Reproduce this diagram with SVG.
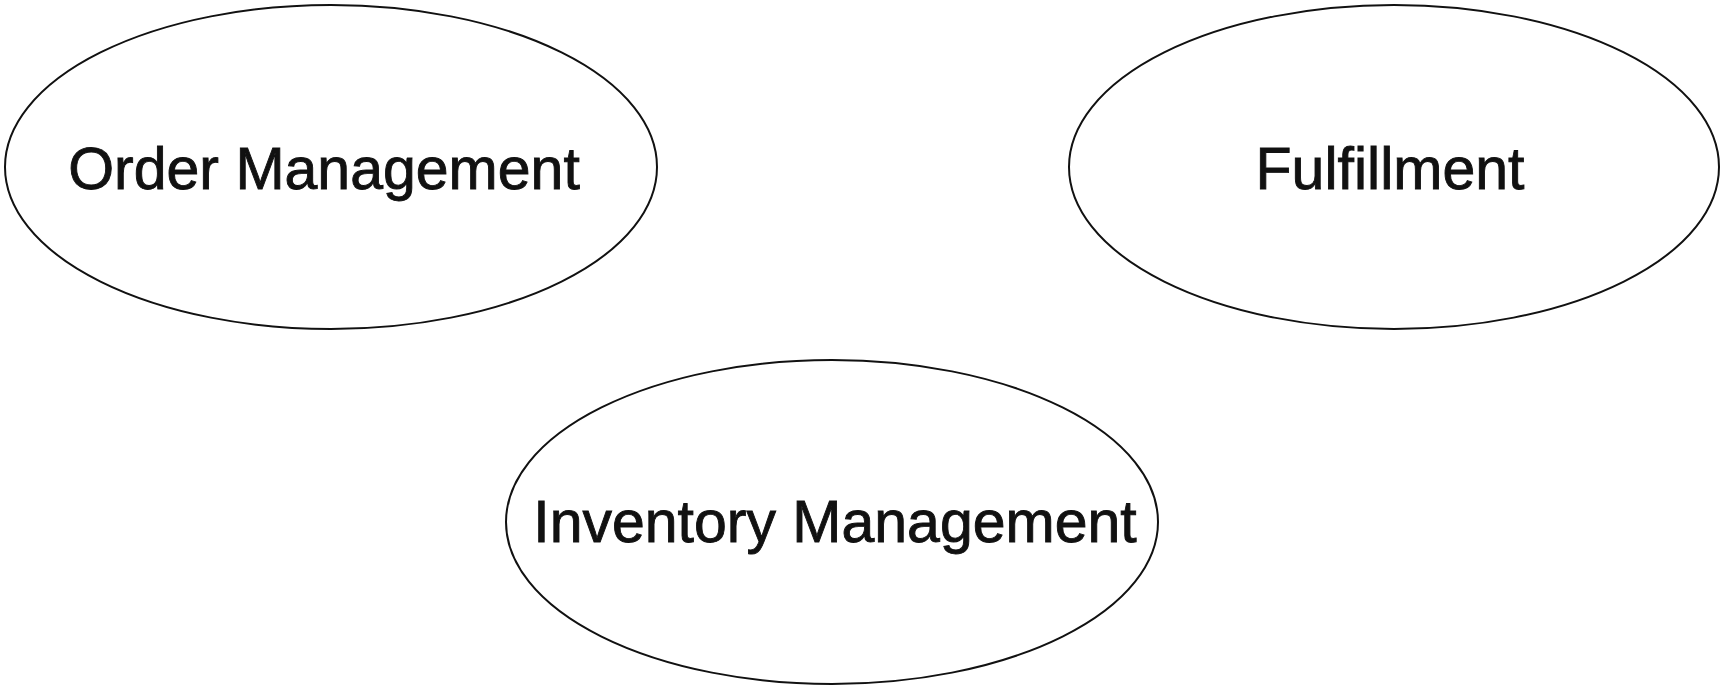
<svg xmlns="http://www.w3.org/2000/svg" width="1725" height="691" viewBox="0 0 1725 691">
<style>
.node ellipse{fill:#fff;stroke:#111;stroke-width:2}
.node text{font-family:"Liberation Sans",Arial,sans-serif;font-size:59px;fill:#111;stroke:#111;stroke-width:0.9;text-anchor:middle}
</style>
<rect width="1725" height="691" fill="#fff"/>
<g id="connectors"></g>
<g id="order-management" class="node">
<ellipse cx="331" cy="167" rx="326" ry="162"/>
<text x="324" y="189">Order Management</text>
</g>
<g id="fulfillment" class="node">
<ellipse cx="1394" cy="167" rx="325" ry="162"/>
<text x="1390" y="189">Fulfillment</text>
</g>
<g id="inventory-management" class="node">
<ellipse cx="832" cy="522" rx="326" ry="162"/>
<text x="835" y="542">Inventory Management</text>
</g>
</svg>
